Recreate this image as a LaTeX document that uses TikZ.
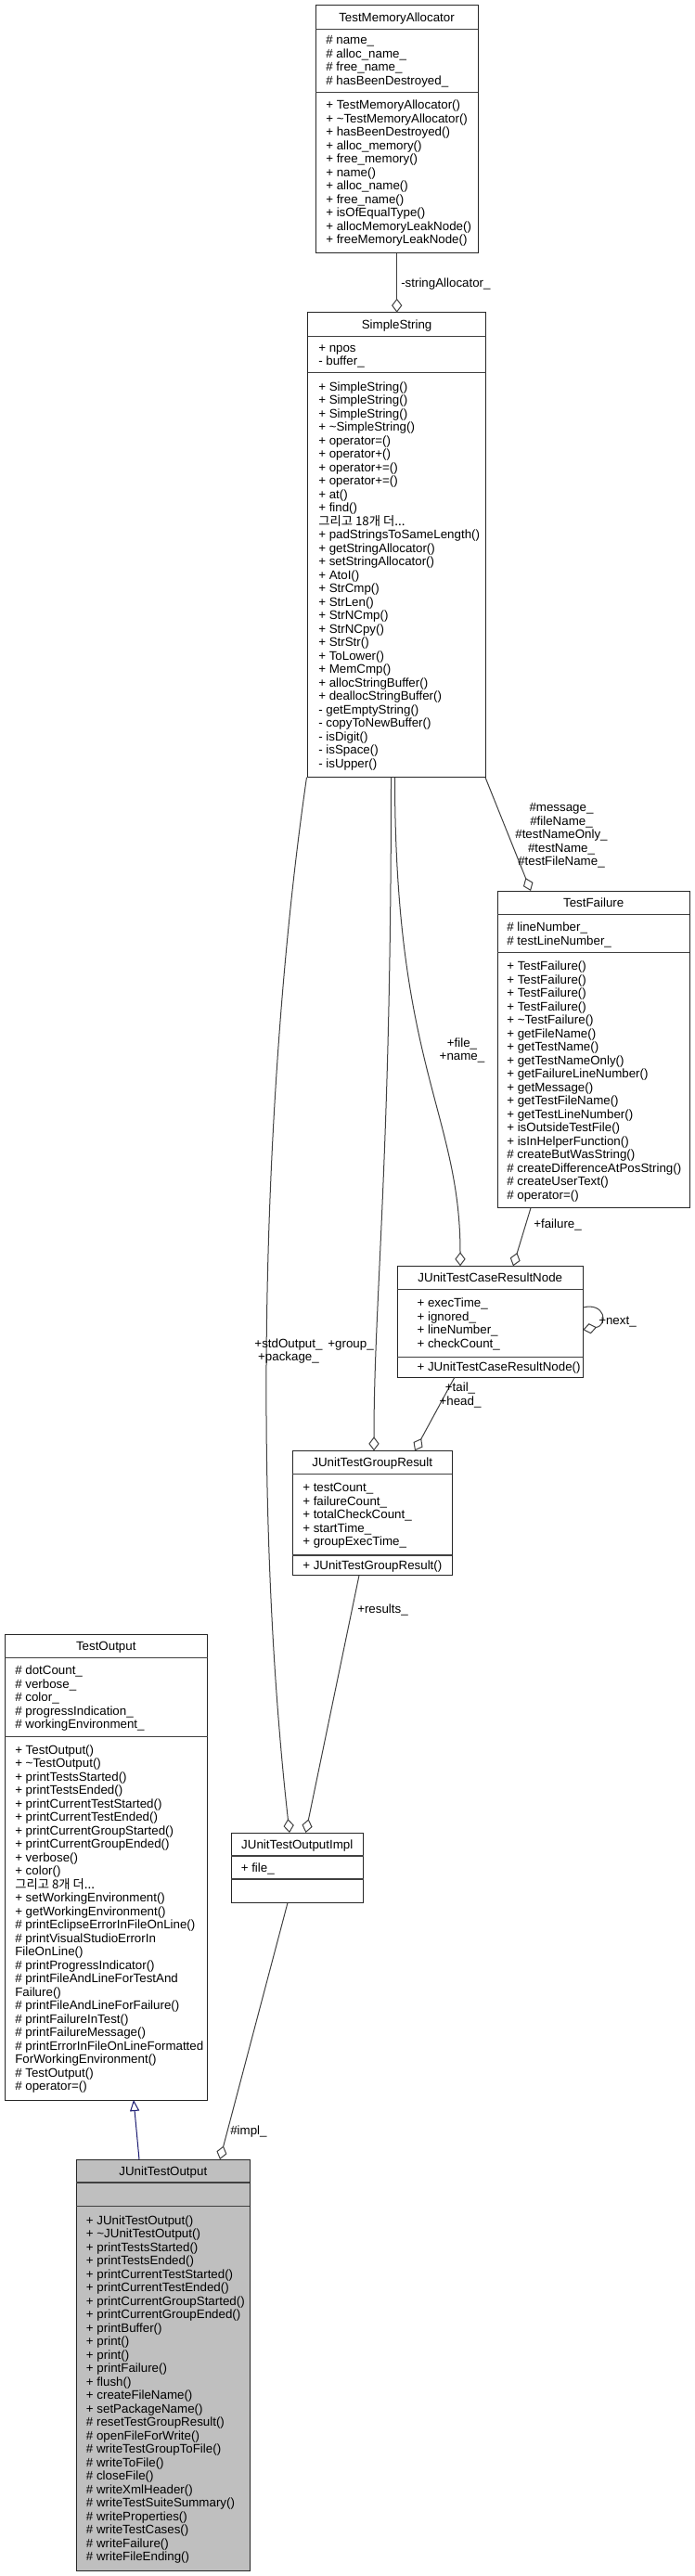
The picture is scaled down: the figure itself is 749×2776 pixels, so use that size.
\documentclass[tikz,border=0pt]{standalone}
\usepackage{fontspec}
\setmainfont{Liberation Sans}
\newfontfamily\kr{Noto Sans CJK KR}
\usetikzlibrary{arrows.meta}
\definecolor{edgegray}{HTML}{404040}
\definecolor{inhblue}{HTML}{191970}
\definecolor{boxgray}{HTML}{BFBFBF}
\newcommand\more[1]{{\kr 그리고 #1개 더...}}
\newcommand\seclines[4]{\foreach \t [count=\i from 0] in {#4} {\node[txt] (#1\i) at (#2,{#3+14.5*\i}) {\t};}}
\newcommand\clines[4]{\foreach \t [count=\i from 0] in {#4} {\node[ctxt] (#1\i) at (#2,{#3+14.5*\i}) {\t};}}
\tikzset{
  txt/.style={inner sep=0pt, font=\fontsize{10}{12}\selectfont, anchor=base west},
  ctxt/.style={inner sep=0pt, font=\fontsize{10}{12}\selectfont, anchor=base},
  ttl/.style={inner sep=0pt, font=\fontsize{10}{12}\selectfont, anchor=base},
  boxline/.style={draw=black!85, line width=0.75pt},
  divline/.style={draw=black!75, line width=0.85pt},
  assoc/.style={draw=edgegray, line width=0.75pt, -{Diamond[length=11.25pt, width=8.5pt, fill=white]}},
  inherit/.style={draw=inhblue, line width=0.75pt, -{Triangle[length=9pt, width=7.5pt, fill=white]}}
}
\begin{document}
\begin{tikzpicture}[x=0.75pt, y=-0.75pt]
\path[fill=white] (0,0) rectangle (749,2776);
\useasboundingbox (0,0) rectangle (749,2776);

% ---------- TestMemoryAllocator
\draw[boxline, fill=white] (340,6) rectangle (515,272.7);
\draw[divline] (340,31.7) -- (515,31.7);
\draw[divline] (340,99.3) -- (515,99.3);
\node[ttl] (tma) at (427.5,23.4) {TestMemoryAllocator};
\seclines{tmaa}{351}{47.8}{\# name\_, \# alloc\_name\_, \# free\_name\_, \# hasBeenDestroyed\_}
\seclines{tmam}{351}{117.8}{+ TestMemoryAllocator(), + \textasciitilde TestMemoryAllocator(), + hasBeenDestroyed(), + alloc\_memory(), + free\_memory(), + name(), + alloc\_name(), + free\_name(), + isOfEqualType(), + allocMemoryLeakNode(), + freeMemoryLeakNode()}

% ---------- SimpleString
\draw[boxline, fill=white] (331.7,336.7) rectangle (523.5,837.7);
\draw[divline] (331.7,362.3) -- (523.5,362.3);
\draw[divline] (331.7,401.7) -- (523.5,401.7);
\node[ttl] (ss) at (427.6,354) {SimpleString};
\seclines{ssa}{343}{379.25}{+ npos, - buffer\_}
\seclines{ssm}{343}{421.2}{+ SimpleString(), + SimpleString(), + SimpleString(), + \textasciitilde SimpleString(), + operator=(), + operator+(), + operator+=(), + operator+=(), + at(), + find(), \more{18}, + padStringsToSameLength(), + getStringAllocator(), + setStringAllocator(), + AtoI(), + StrCmp(), + StrLen(), + StrNCmp(), + StrNCpy(), + StrStr(), + ToLower(), + MemCmp(), + allocStringBuffer(), + deallocStringBuffer(), - getEmptyString(), - copyToNewBuffer(), - isDigit(), - isSpace(), - isUpper()}

% ---------- TestFailure
\draw[boxline, fill=white] (536,960) rectangle (743.3,1301.7);
\draw[divline] (536,985.7) -- (743.3,985.7);
\draw[divline] (536,1026.7) -- (743.3,1026.7);
\node[ttl] (tf) at (639.7,977.4) {TestFailure};
\seclines{tfa}{546}{1003.5}{\# lineNumber\_, \# testLineNumber\_}
\seclines{tfm}{546}{1045.5}{+ TestFailure(), + TestFailure(), + TestFailure(), + TestFailure(), + \textasciitilde TestFailure(), + getFileName(), + getTestName(), + getTestNameOnly(), + getFailureLineNumber(), + getMessage(), + getTestFileName(), + getTestLineNumber(), + isOutsideTestFile(), + isInHelperFunction(), \# createButWasString(), \# createDifferenceAtPosString(), \# createUserText(), \# operator=()}

% ---------- JUnitTestCaseResultNode
\draw[boxline, fill=white] (428.3,1364.3) rectangle (628.3,1484);
\draw[divline] (428.3,1389.3) -- (628.3,1389.3);
\draw[divline] (428.3,1462.7) -- (628.3,1462.7);
\node[ttl] (crn) at (528.3,1381.3) {JUnitTestCaseResultNode};
\seclines{crna}{449.3}{1408.75}{+ execTime\_, + ignored\_, + lineNumber\_, + checkCount\_}
\seclines{crnm}{449.3}{1477.85}{+ JUnitTestCaseResultNode()}

% ---------- JUnitTestGroupResult
\draw[boxline, fill=white] (315,1563.3) rectangle (487.3,1697.7);
\draw[divline] (315,1588.3) -- (487.3,1588.3);
\draw[divline] (315,1676) -- (487.3,1676);
\node[ttl] (tgr) at (401.2,1580.3) {JUnitTestGroupResult};
\seclines{tgra}{326}{1607.65}{+ testCount\_, + failureCount\_, + totalCheckCount\_, + startTime\_, + groupExecTime\_}
\seclines{tgrm}{326}{1691.35}{+ JUnitTestGroupResult()}

% ---------- TestOutput
\draw[boxline, fill=white] (5,1761.8) rectangle (223.5,2263);
\draw[divline] (5,1786.8) -- (223.5,1786.8);
\draw[divline] (5,1871.4) -- (223.5,1871.4);
\node[ttl] (to) at (114.25,1778.8) {TestOutput};
\seclines{toa}{16}{1804.6}{\# dotCount\_, \# verbose\_, \# color\_, \# progressIndication\_, \# workingEnvironment\_}
\seclines{tom}{16}{1890.45}{+ TestOutput(), + \textasciitilde TestOutput(), + printTestsStarted(), + printTestsEnded(), + printCurrentTestStarted(), + printCurrentTestEnded(), + printCurrentGroupStarted(), + printCurrentGroupEnded(), + verbose(), + color(), \more{8}, + setWorkingEnvironment(), + getWorkingEnvironment(), \# printEclipseErrorInFileOnLine(), \# printVisualStudioErrorIn, FileOnLine(), \# printProgressIndicator(), \# printFileAndLineForTestAnd, Failure(), \# printFileAndLineForFailure(), \# printFailureInTest(), \# printFailureMessage(), \# printErrorInFileOnLineFormatted, ForWorkingEnvironment(), \# TestOutput(), \# operator=()}

% ---------- JUnitTestOutputImpl
\draw[boxline, fill=white] (249,1975) rectangle (391.5,2050.5);
\draw[divline] (249,2000) -- (391.5,2000);
\draw[divline] (249,2025) -- (391.5,2025);
\node[ttl] (toi) at (320.25,1992) {JUnitTestOutputImpl};
\seclines{toia}{259.5}{2017}{+ file\_}

% ---------- JUnitTestOutput
\draw[boxline, fill=boxgray] (82.3,2327) rectangle (269.3,2770);
\draw[divline] (82.3,2352) -- (269.3,2352);
\draw[divline] (82.3,2377.7) -- (269.3,2377.7);
\node[ttl] (jto) at (175.8,2344) {JUnitTestOutput};
\seclines{jtom}{92.7}{2397.1}{+ JUnitTestOutput(), + \textasciitilde JUnitTestOutput(), + printTestsStarted(), + printTestsEnded(), + printCurrentTestStarted(), + printCurrentTestEnded(), + printCurrentGroupStarted(), + printCurrentGroupEnded(), + printBuffer(), + print(), + print(), + printFailure(), + flush(), + createFileName(), + setPackageName(), \# resetTestGroupResult(), \# openFileForWrite(), \# writeTestGroupToFile(), \# writeToFile(), \# closeFile(), \# writeXmlHeader(), \# writeTestSuiteSummary(), \# writeProperties(), \# writeTestCases(), \# writeFailure(), \# writeFileEnding()}

% ---------- connector end points
\coordinate (tmaS) at (427.7,272.7);
\coordinate (ssN) at (427.7,336.7);
\coordinate (ssSE) at (523,837.7);
\coordinate (tfN) at (572,960);
\coordinate (ssSM1) at (425.5,837.7);
\coordinate (ssSM2) at (421.5,837.7);
\coordinate (ssSW) at (330.5,837.7);
\coordinate (crnN1) at (496,1364.3);
\coordinate (crnN2) at (553,1364.3);
\coordinate (tfS) at (572,1301.7);
\coordinate (crnE1) at (628.3,1409);
\coordinate (crnE2) at (628.3,1433);
\coordinate (crnS) at (490,1484);
\coordinate (tgrN1) at (403,1563.3);
\coordinate (tgrN2) at (447,1563.3);
\coordinate (tgrS) at (387,1697.7);
\coordinate (toiN1) at (312,1975);
\coordinate (toiN2) at (329.5,1975);
\coordinate (toiS) at (310,2050.5);
\coordinate (jtoN1) at (150,2327);
\coordinate (jtoN2) at (237,2327);
\coordinate (toS) at (144,2263);

% ---------- connectors
\draw[assoc] (tmaS) -- (ssN);
\draw[assoc] (ssSE) -- (tfN);
\draw[assoc] (ssSM1) .. controls (425.5,1150) and (496,1200) .. (crnN1);
\draw[assoc] (tfS) -- (crnN2);
\draw[assoc] (crnE1) .. controls (652,1403) and (656,1428) .. (crnE2);
\draw[assoc] (crnS) -- (tgrN2);
\draw[assoc] (ssSM2) .. controls (421.5,1250) and (403,1400) .. (tgrN1);
\draw[assoc] (tgrS) -- (toiN2);
\draw[assoc] (ssSW) .. controls (285,1150) and (270,1600) .. (toiN1);
\draw[assoc] (toiS) -- (jtoN2);
\draw[inherit] (jtoN1) -- (toS);

% ---------- connector labels
\node[txt] (l1) at (432,309.5) {-stringAllocator\_};
\clines{l2}{605}{874.5}{\#message\_, \#fileName\_, \#testNameOnly\_, \#testName\_, \#testFileName\_}
\clines{l3}{498}{1128}{+file\_, +name\_}
\node[txt] (l4) at (575,1323) {+failure\_};
\node[txt] (l5) at (645,1427) {+next\_};
\clines{l6}{496}{1499.5}{+tail\_, +head\_}
\node[txt, anchor=base east] (l7) at (403,1452) {+group\_};
\node[txt] (l8) at (385,1738) {+results\_};
\clines{l9}{311}{1452}{+stdOutput\_, +package\_}
\node[txt] (l10) at (248,2300.5) {\#impl\_};
\end{tikzpicture}
\end{document}
